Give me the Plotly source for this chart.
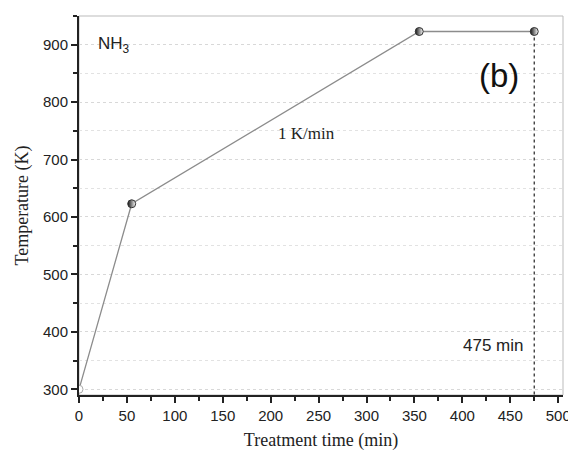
import plotly.graph_objects as go

time_min = [0, 55, 355, 475]
temp_k = [300, 623, 923, 923]
x_ticks = [0, 50, 100, 150, 200, 250, 300, 350, 400, 450, 500]
y_ticks = [300, 400, 500, 600, 700, 800, 900]
end_time = 475

fig = go.Figure()
fig.add_trace(go.Scatter(x=time_min, y=temp_k, mode="lines",
                         line=dict(color="#8c8c8c", width=1.3), showlegend=False))
fig.add_trace(go.Scatter(x=[end_time, end_time], y=[temp_k[-1], 290], mode="lines",
                         line=dict(color="#333333", width=1.3, dash="dot"), showlegend=False))
fig.add_trace(go.Scatter(x=time_min[:1], y=temp_k[:1], mode="markers",
                         marker=dict(symbol="circle", size=8, color="white",
                                     line=dict(color="#aaaaaa", width=1)), showlegend=False))
fig.add_trace(go.Scatter(x=time_min[1:], y=temp_k[1:], mode="markers",
                         marker=dict(symbol="circle", size=8, color="#111111",
                                     gradient=dict(type="horizontal", color="white"),
                                     line=dict(color="#333333", width=1)), showlegend=False))

fig.add_annotation(x=18, y=900, text="NH<sub>3</sub>", showarrow=False, xanchor="left",
                   font=dict(family="Liberation Sans, Arial", size=17, color="#222"))
fig.add_annotation(x=461, y=846, text="(b)", showarrow=False, xanchor="right",
                   font=dict(family="Liberation Sans, Arial", size=33, color="#111"))
fig.add_annotation(x=237, y=745, text="1 K/min", showarrow=False,
                   font=dict(family="Liberation Serif, Times New Roman", size=17, color="#222"))
fig.add_annotation(x=465, y=376, text="475 min", showarrow=False, xanchor="right",
                   font=dict(family="Liberation Sans, Arial", size=17, color="#222"))

fig.update_layout(
    width=568, height=446,
    margin=dict(l=71, r=13, t=8, b=59),
    plot_bgcolor="white", paper_bgcolor="white",
    shapes=[dict(type="rect", xref="paper", yref="paper", x0=0, y0=0, x1=1, y1=1,
                 line=dict(color="#bbbbbb", width=1), layer="below")],
)
fig.update_xaxes(range=[0, 505], tickvals=x_ticks, ticks="outside", ticklen=6, tickwidth=1.5,
                 tickcolor="#222", showline=True, linecolor="#222", linewidth=2,
                 showgrid=False, zeroline=False, automargin=False,
                 minor=dict(ticks="outside", ticklen=4, tickwidth=1.5, tickcolor="#222", dtick=25, tick0=0),
                 tickfont=dict(family="Liberation Sans, Arial", size=15, color="#222"),
                 title=dict(text="Treatment time (min)", standoff=10,
                            font=dict(family="Liberation Serif, Times New Roman", size=18, color="#222")))
fig.update_yaxes(range=[290, 950], tickvals=y_ticks, ticks="outside", ticklen=6, tickwidth=1.5,
                 tickcolor="#222", showline=True, linecolor="#222", linewidth=2,
                 showgrid=True, gridcolor="#d8d8d8", griddash="dot", gridwidth=1, zeroline=False,
                 automargin=False,
                 minor=dict(ticks="outside", ticklen=4, tickwidth=1.5, tickcolor="#222", dtick=50, tick0=0,
                            showgrid=True, gridcolor="#e2e2e2", griddash="dot"),
                 tickfont=dict(family="Liberation Sans, Arial", size=15, color="#222"),
                 title=dict(text="Temperature (K)", standoff=10,
                            font=dict(family="Liberation Serif, Times New Roman", size=18, color="#222")))

fig.write_html("out.html")
